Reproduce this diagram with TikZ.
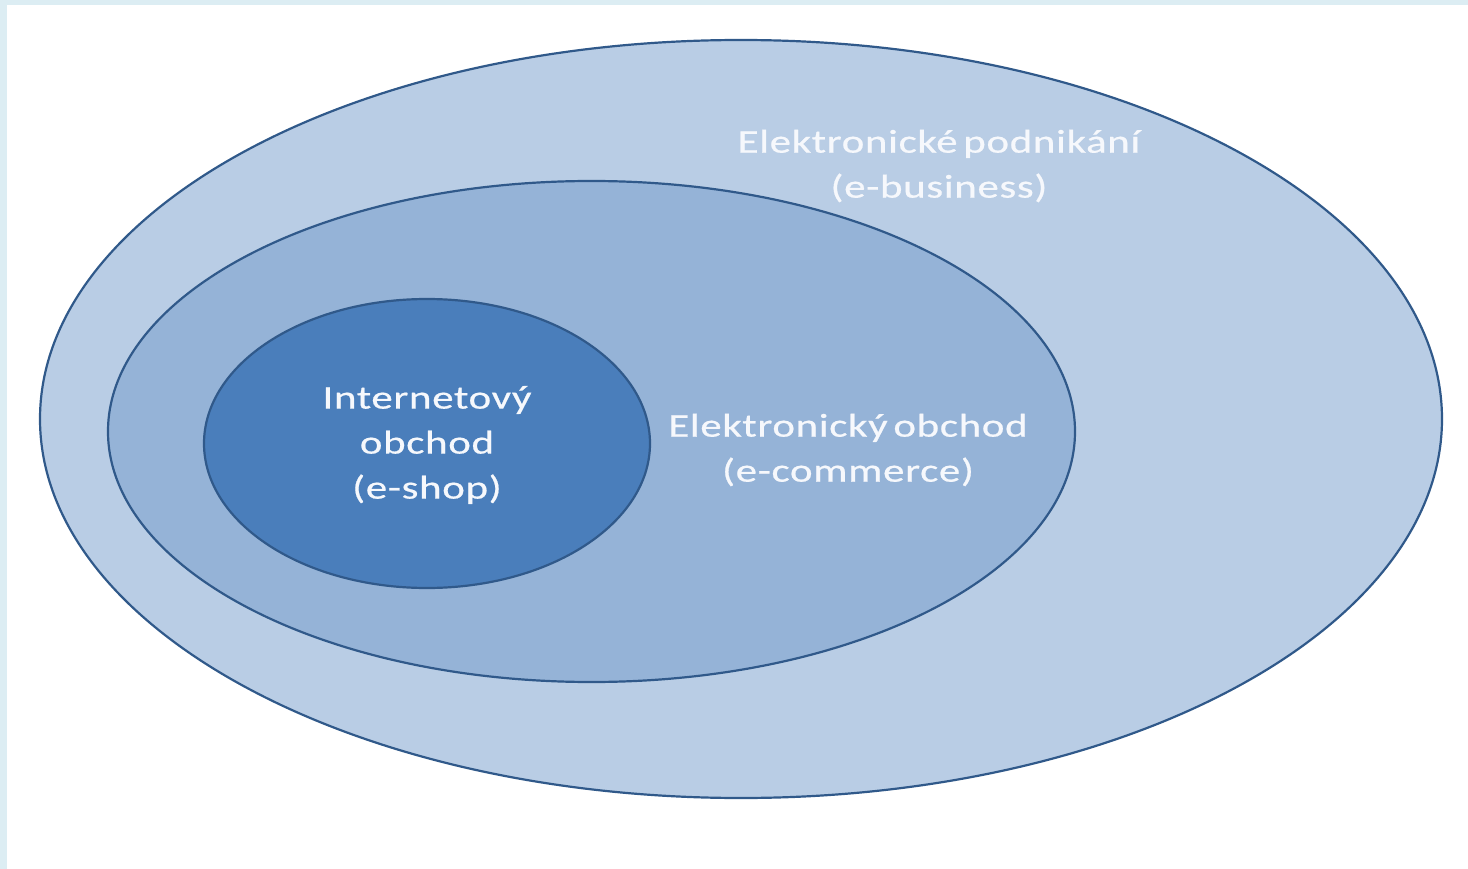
\documentclass[tikz,border=0pt]{standalone}
\usepackage{fontspec}
\setmainfont{Carlito}
\newfontfamily\wideface[FakeStretch=1.3,LetterSpace=2,WordSpace=0.55,FakeBold=0.6]{Carlito}
\usetikzlibrary{shapes.geometric}
\definecolor{frameblue}{HTML}{DCEDF3}
\definecolor{outerfill}{HTML}{B9CDE5}
\definecolor{midfill}{HTML}{95B3D7}
\definecolor{innerfill}{HTML}{4A7EBB}
\definecolor{edgeblue}{HTML}{30598A}
\definecolor{txt}{HTML}{F6F8FC}
\tikzset{
  set/.style={ellipse, draw=edgeblue, line width=2.2pt, inner sep=0pt},
  lbl/.style={text=txt, font=\wideface\fontsize{33}{45}\selectfont, align=center, inner sep=0pt}
}
\begin{document}
\begin{tikzpicture}[x=1pt,y=-1pt]
\useasboundingbox (0,0) rectangle (1468,869);
\fill[frameblue] (0,0) rectangle (1468,5);
\fill[frameblue] (0,0) rectangle (7,869);
\node[set, fill=outerfill, minimum width=1402pt, minimum height=758pt] (outer) at (741,419) {};
\node[set, fill=midfill, minimum width=967pt, minimum height=501pt] (mid) at (591.5,431.5) {};
\node[set, fill=innerfill, minimum width=446pt, minimum height=289pt] (inner) at (427,443.5) {};
\node[lbl] (ebus) at (939,166) {Elektronické podnikání\\(e-business)};
\node[lbl] (ecom) at (848,450) {Elektronický obchod\\(e-commerce)};
\node[lbl] (eshop) at (427,445) {Internetový\\obchod\\(e-shop)};
\end{tikzpicture}
\end{document}
